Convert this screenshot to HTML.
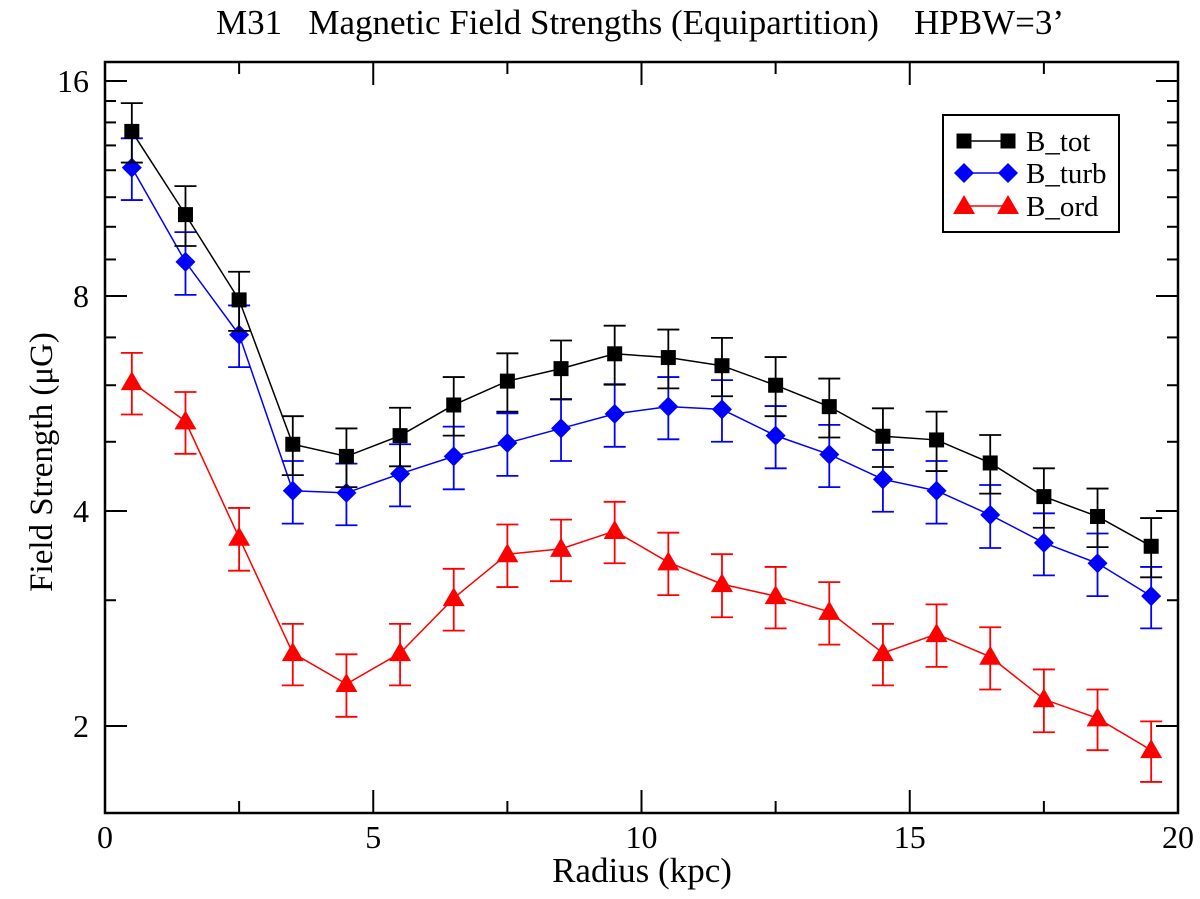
<!DOCTYPE html>
<html><head><meta charset="utf-8"><style>
body{margin:0;background:#fff}
svg{display:block;font-family:"Liberation Serif",serif}
</style></head><body>
<svg id="c" width="1200" height="899"></svg>
<script>
const radius=[0.5,1.5,2.5,3.5,4.5,5.5,6.5,7.5,8.5,9.5,10.5,11.5,12.5,13.5,14.5,15.5,16.5,17.5,18.5,19.5];
const bTot=[13.6,10.4,7.9,4.96,4.77,5.1,5.63,6.08,6.33,6.64,6.56,6.39,6.0,5.6,5.09,5.03,4.67,4.19,3.93,3.57];
const bTotErr=[1.3,1.0,0.75,0.47,0.45,0.48,0.53,0.57,0.6,0.63,0.62,0.6,0.57,0.53,0.48,0.48,0.44,0.4,0.37,0.34];
const bTurb=[12.1,8.93,7.06,4.27,4.24,4.51,4.77,4.98,5.22,5.47,5.6,5.55,5.1,4.8,4.43,4.27,3.95,3.61,3.38,3.04];
const bTurbErr=[1.2,0.9,0.7,0.43,0.42,0.45,0.48,0.5,0.52,0.55,0.56,0.55,0.51,0.48,0.44,0.43,0.4,0.36,0.34,0.3];
const bOrd=[6.06,5.34,3.67,2.53,2.29,2.53,3.02,3.48,3.54,3.75,3.39,3.16,3.04,2.89,2.53,2.69,2.5,2.18,2.05,1.85];
const bOrdErr=[0.6,0.53,0.37,0.25,0.23,0.25,0.3,0.35,0.35,0.37,0.34,0.32,0.3,0.29,0.25,0.27,0.25,0.22,0.2,0.18];
const xTicks=[0,5,10,15,20];
const xMinor=[2.5,7.5,12.5,17.5];
const yTicks=[2,4,8,16];
const yMinor=[3,5,6,7,9,10,11,12,13,14,15];
const L=105,R=1178,T=62,B=813;
const X=v=>L+(v-0)/20*(R-L);
const Y=v=>81+Math.log2(16/v)*215;
const svg=document.getElementById('c');
const NS='http://www.w3.org/2000/svg';
function el(t,a,p){const e=document.createElementNS(NS,t);for(const k in a)e.setAttribute(k,a[k]);(p||svg).appendChild(e);return e;}
function txt(s,a){const e=el('text',a);e.textContent=s;return e;}
let e;
e=txt('M31   Magnetic Field Strengths (Equipartition)    HPBW=3’',{x:640,y:34,'font-size':35,'text-anchor':'middle',style:'white-space:pre'});


e=txt('Radius (kpc)',{x:642,y:882,'font-size':35,'text-anchor':'middle'});


e=txt('Field Strength (\u03bcG)',{x:0,y:0,'font-size':33,'text-anchor':'middle',transform:'translate(52,462) rotate(-90)'});


const ax=el('g',{stroke:'#000','stroke-width':2});


xTicks.forEach(v=>{el('line',{x1:X(v),x2:X(v),y1:B,y2:B-23},ax);el('line',{x1:X(v),x2:X(v),y1:T,y2:T+23},ax);
 const t=txt(String(v),{x:X(v),y:848,'font-size':32,'text-anchor':'middle'});
 
 });
xMinor.forEach(v=>{el('line',{x1:X(v),x2:X(v),y1:B,y2:B-12},ax);el('line',{x1:X(v),x2:X(v),y1:T,y2:T+12},ax);});
yTicks.forEach(v=>{el('line',{x1:L,x2:L+22,y1:Y(v),y2:Y(v)},ax);el('line',{x1:R,x2:R-22,y1:Y(v),y2:Y(v)},ax);
 const t=txt(String(v),{x:89,y:Y(v)+11,'font-size':32,'text-anchor':'end'});
 
 });
yMinor.forEach(v=>{el('line',{x1:L,x2:L+11,y1:Y(v),y2:Y(v)},ax);el('line',{x1:R,x2:R-11,y1:Y(v),y2:Y(v)},ax);});
function marker(shape,cx,cy,col,g){
 if(shape==='sq')return el('rect',{x:cx-7.5,y:cy-7.5,width:15,height:15,fill:col},g);
 if(shape==='di')return el('polygon',{points:`${cx},${cy-10} ${cx+10},${cy} ${cx},${cy+10} ${cx-10},${cy}`,fill:col},g);
 return el('polygon',{points:`${cx},${cy-11} ${cx+11},${cy+8} ${cx-11},${cy+8}`,fill:col},g);
}
function series(vals,errs,col,shape,name){
 const g=el('g',{});
 
 
 el('polyline',{points:radius.map((r,i)=>X(r)+','+Y(vals[i])).join(' '),fill:'none',stroke:col,'stroke-width':1.5},g);
 radius.forEach((r,i)=>{
  const x=X(r),y1=Y(vals[i]+errs[i]),y2=Y(vals[i]-errs[i]);
  const eb=el('path',{d:`M${x},${y1}V${y2}M${x-11},${y1}H${x+11}M${x-11},${y2}H${x+11}`,stroke:col,'stroke-width':1.8,fill:'none'},g);
  
  
 });
 radius.forEach((r,i)=>{
  const m=marker(shape,X(r),Y(vals[i]),col,g);
  
  
 });
}
series(bOrd,bOrdErr,'#ff0000','tri','b-ord');
series(bTurb,bTurbErr,'#0000ff','di','b-turb');
series(bTot,bTotErr,'#000000','sq','b-tot');
el('rect',{x:L,y:T,width:R-L,height:B-T,fill:'none',stroke:'#000','stroke-width':2.5});
const lg=el('g',{});


el('rect',{x:943,y:115,width:176,height:117,fill:'#fff',stroke:'#000','stroke-width':2},lg);
[['B_tot','#000','sq',141],['B_turb','#00f','di',173],['B_ord','#f00','tri',206]].forEach(([n,c,s,y])=>{
 const g=el('g',{},lg);
 
 
 el('line',{x1:964,x2:1008,y1:y,y2:y,stroke:c,'stroke-width':1.5},g);
 marker(s,964,y,c,g);marker(s,1008,y,c,g);
 const t=el('text',{x:1026,y:y+10,'font-size':29},g);t.textContent=n;
});
</script>
</body></html>
